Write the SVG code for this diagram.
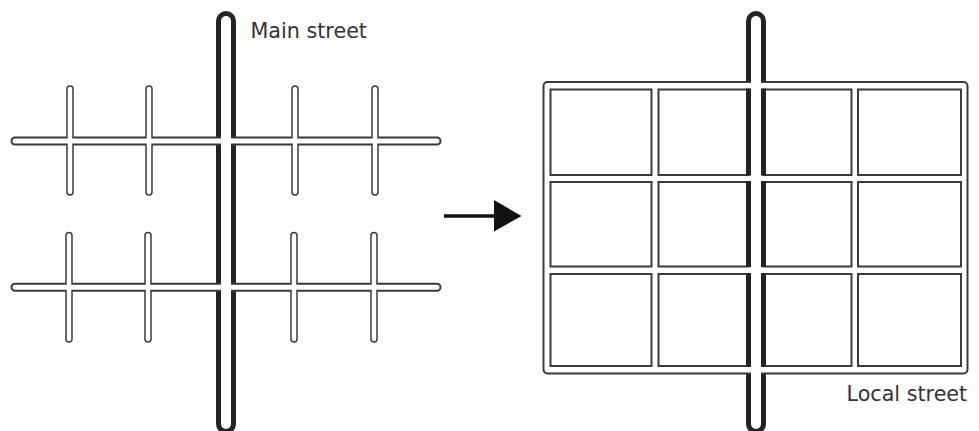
<svg xmlns="http://www.w3.org/2000/svg" width="979" height="431" viewBox="0 0 979 431">
<style>
.t{font-family:"DejaVu Sans",sans-serif;font-size:20.700px;fill:#333}
.mo{fill:none;stroke:#242424;stroke-width:20;stroke-linecap:round}
.mi{fill:none;stroke:#fff;stroke-width:10;stroke-linecap:round}
.so{fill:none;stroke:#3a3a3a;stroke-width:9;stroke-linecap:round}
.si{fill:none;stroke:#fff;stroke-width:5;stroke-linecap:round}
.vo{fill:none;stroke:#3a3a3a;stroke-width:7.500;stroke-linecap:round}
.vi{fill:none;stroke:#fff;stroke-width:4.500;stroke-linecap:round}
.b{fill:#fff;stroke:#3a3a3a;stroke-width:2}
.w{fill:#242424}
</style>
<rect width="979" height="431" fill="#fff"/>
<g id="left-streets">
<path class="mo" d="M226 21V424"/>
<path class="so" d="M15 141H437M15 287.300H437"/>
<path class="vo" d="M70 89V192M149 89V192M295 89V192M375 89V192M69 235.500V339M148 235.500V339M294 235.500V339M374 235.500V339"/>
<path class="mi" d="M226 21V424"/>
<path class="si" d="M15 141H437M15 287.300H437"/>
<path class="vi" d="M70 89V192M149 89V192M295 89V192M375 89V192M69 235.500V339M148 235.500V339M294 235.500V339M374 235.500V339"/>
</g>
<g id="right-grid">
<path class="mo" d="M756 21V424"/>
<rect x="543.500" y="82" width="424" height="291.500" rx="4" fill="#fff" stroke="#3a3a3a" stroke-width="2"/>
<g id="blocks">
<rect class="b" x="550.500" y="89.500" width="101" height="85.500"/><rect class="b" x="658.500" y="89.500" width="90" height="85.500"/><rect class="b" x="763.500" y="89.500" width="88" height="85.500"/><rect class="b" x="858" y="89.500" width="103" height="85.500"/>
<rect class="b" x="550.500" y="182" width="101" height="84.500"/><rect class="b" x="658.500" y="182" width="90" height="84.500"/><rect class="b" x="763.500" y="182" width="88" height="84.500"/><rect class="b" x="858" y="182" width="103" height="84.500"/>
<rect class="b" x="550.500" y="274" width="101" height="92"/><rect class="b" x="658.500" y="274" width="90" height="92"/><rect class="b" x="763.500" y="274" width="88" height="92"/><rect class="b" x="858" y="274" width="103" height="92"/>
</g>
<g id="main-walls">
<rect class="w" x="746" y="88.500" width="5" height="87"/><rect class="w" x="761" y="88.500" width="5" height="87"/>
<rect class="w" x="746" y="181" width="5" height="86"/><rect class="w" x="761" y="181" width="5" height="86"/>
<rect class="w" x="746" y="273" width="5" height="94"/><rect class="w" x="761" y="273" width="5" height="94"/>
</g>
<path class="mi" d="M756 21V424"/>
</g>
<g id="connectors">
<path d="M444 216H496" fill="none" stroke="#111" stroke-width="3.500"/>
<polygon points="494,200 521.500,216 494,231.500" fill="#111"/>
</g>
<g id="label-main"><text class="t" x="250.500" y="38">Main street</text></g>
<g id="label-local"><text class="t" x="846.500" y="401">Local street</text></g>
</svg>
